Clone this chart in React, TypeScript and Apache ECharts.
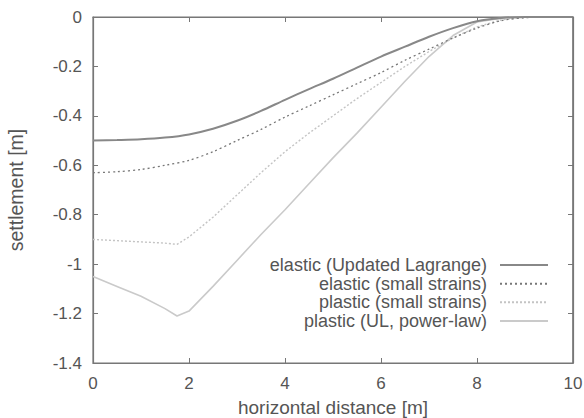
import React, { useEffect, useRef } from "react";
import * as echarts from "echarts";

const xElastic = [0, 0.5, 1, 1.5, 2, 2.5, 3, 3.5, 4, 4.5, 5, 5.5, 6, 6.5, 7, 7.5, 8, 8.5, 9, 9.5, 10];
const elasticUL = [-0.5, -0.498, -0.495, -0.488, -0.475, -0.452, -0.42, -0.38, -0.335, -0.292, -0.25, -0.205, -0.16, -0.12, -0.08, -0.045, -0.017, -0.004, 0, 0, 0];
const elasticSmall = [-0.63, -0.626, -0.617, -0.6, -0.58, -0.545, -0.5, -0.455, -0.405, -0.36, -0.315, -0.27, -0.225, -0.175, -0.13, -0.085, -0.045, -0.015, -0.003, 0, 0];

const xPlastic = [0, 0.5, 1, 1.5, 1.75, 2, 2.5, 3, 3.5, 4, 4.5, 5, 5.5, 6, 6.5, 7, 7.5, 8, 8.5, 9, 10];
const plasticSmall = [-0.9, -0.905, -0.91, -0.915, -0.92, -0.89, -0.81, -0.72, -0.63, -0.545, -0.47, -0.4, -0.33, -0.265, -0.2, -0.14, -0.085, -0.04, -0.012, 0, 0];
const plasticUL = [-1.05, -1.09, -1.13, -1.18, -1.21, -1.19, -1.09, -0.985, -0.88, -0.78, -0.675, -0.57, -0.47, -0.365, -0.26, -0.16, -0.075, -0.02, -0.005, 0, 0];

const seriesNames = [
  "elastic (Updated Lagrange)",
  "elastic (small strains)",
  "plastic (small strains)",
  "plastic (UL, power-law)",
];

const zip = (xs: number[], ys: number[]) => xs.map((x, i) => [x, ys[i]]);

export default function App() {
  const ref = useRef<HTMLDivElement>(null);
  useEffect(() => {
    if (!ref.current) return;
    document.body.style.margin = "0";
    document.body.style.overflow = "hidden";
    const chart = echarts.init(ref.current, undefined, { renderer: "svg", width: 584, height: 418 });
    const font = "'Liberation Sans', Arial, Helvetica, sans-serif";
    const textColor = "#555";
    const axisColor = "#777";
    const tick = { show: true, inside: true, length: 5, lineStyle: { color: axisColor } };
    const line = () => ({ show: true, onZero: false, lineStyle: { color: axisColor, width: 1.2 } });
    chart.setOption({
      animation: false,
      backgroundColor: "#fff",
      textStyle: { fontFamily: font },
      grid: {
        left: 93,
        right: 11,
        top: 17,
        bottom: 55,
        containLabel: false,
        outerBoundsMode: "none",
        show: true,
        borderColor: axisColor,
        borderWidth: 1.2,
        backgroundColor: "transparent",
      },
      graphic: [
        {
          type: "line",
          shape: { x1: 573, y1: 17, x2: 573, y2: 363 },
          style: { stroke: axisColor, lineWidth: 1.2 },
          z: 10,
        },
      ],
      legend: {
        orient: "vertical",
        right: 35,
        top: 255.6,
        align: "right",
        padding: 0,
        itemGap: 0,
        itemWidth: 48,
        itemHeight: 10,
        data: seriesNames,
        itemStyle: { opacity: 0 },
        textStyle: {
          fontSize: 18,
          color: textColor,
          fontFamily: font,
          width: 230,
          align: "right",
          lineHeight: 18.7,
          padding: [0, 8, 0, 0],
        },
      },
      xAxis: [
        {
          type: "value",
          min: 0,
          max: 10,
          interval: 2,
          name: "horizontal distance [m]",
          nameLocation: "middle",
          nameGap: 35,
          nameTextStyle: { fontSize: 19, color: textColor, fontFamily: font },
          axisLine: line(),
          axisTick: tick,
          axisLabel: { fontSize: 17, color: textColor, margin: 12, fontFamily: font },
          splitLine: { show: false },
        },
        {
          type: "value",
          position: "top",
          min: 0,
          max: 10,
          interval: 2,
          axisLine: line(),
          axisTick: tick,
          axisLabel: { show: false },
          splitLine: { show: false },
        },
      ],
      yAxis: [
        {
          type: "value",
          min: -1.4,
          max: 0,
          interval: 0.2,
          name: "settlement [m]",
          nameLocation: "middle",
          nameGap: 67,
          nameTextStyle: { fontSize: 19.5, color: textColor, fontFamily: font },
          axisLine: line(),
          axisTick: tick,
          axisLabel: { fontSize: 17, color: textColor, margin: 11, fontFamily: font },
          splitLine: { show: false },
        },
        {
          type: "value",
          position: "right",
          min: -1.4,
          max: 0,
          interval: 0.2,
          axisLine: line(),
          axisTick: tick,
          axisLabel: { show: false },
          splitLine: { show: false },
        },
      ],
      series: [
        {
          name: seriesNames[0],
          type: "line",
          data: zip(xElastic, elasticUL),
          symbol: "none",
          smooth: 0.3,
          lineStyle: { color: "#888", width: 2 },
          itemStyle: { color: "#888" },
          z: 4,
        },
        {
          name: seriesNames[1],
          type: "line",
          data: zip(xElastic, elasticSmall),
          symbol: "none",
          smooth: 0.3,
          lineStyle: { color: "#777", width: 1.3, type: [2, 3] },
          itemStyle: { color: "#777" },
          z: 3,
        },
        {
          name: seriesNames[2],
          type: "line",
          data: zip(xPlastic, plasticSmall),
          symbol: "none",
          lineStyle: { color: "#c4c4c4", width: 1.4, type: [2, 2] },
          itemStyle: { color: "#c4c4c4" },
          z: 2,
        },
        {
          name: seriesNames[3],
          type: "line",
          data: zip(xPlastic, plasticUL),
          symbol: "none",
          lineStyle: { color: "#cacaca", width: 1.6 },
          itemStyle: { color: "#cacaca" },
          z: 1,
        },
      ],
    });
    return () => chart.dispose();
  }, []);
  return <div ref={ref} style={{ width: 584, height: 418 }} />;
}
